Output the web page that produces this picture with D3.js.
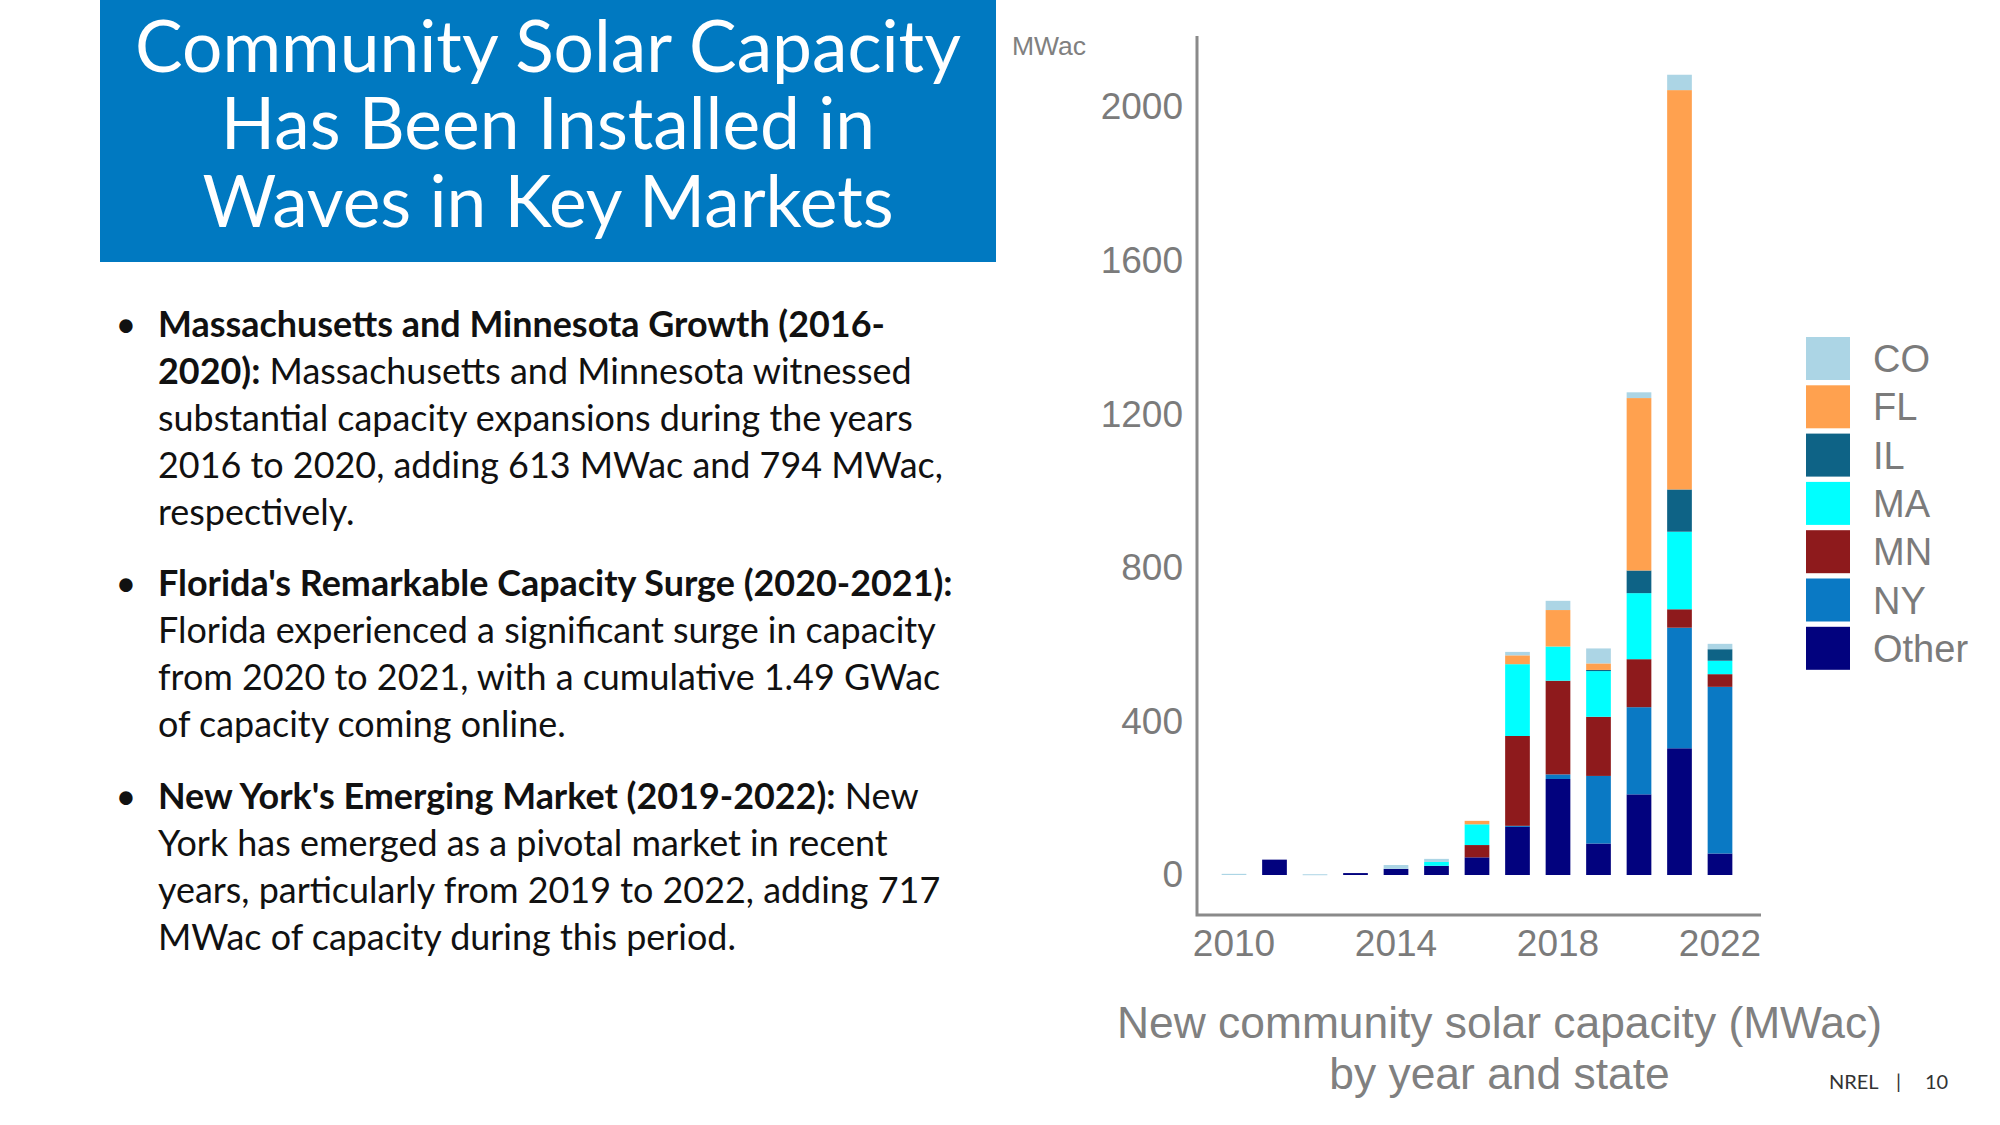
<!DOCTYPE html>
<html><head><meta charset="utf-8">
<script src="https://cdn.jsdelivr.net/npm/d3@7"></script>
<style>html,body{margin:0;padding:0;background:#fff;} svg{display:block}</style>
</head><body>
<svg id="c" width="2000" height="1125"></svg>
<script>
// ---------- DATA ----------
const years = [2010,2011,2012,2013,2014,2015,2016,2017,2018,2019,2020,2021,2022];
const CO    = [3,0,2,0,10,8,0,9,24,39,15,40,14];
const FL    = [0,0,0,0,0,0,9,23,95,17,449,1040,0];
const IL    = [0,0,0,0,0,0,0,0,0,3,59,110,30];
const MA    = [0,0,0,0,0,10,54,187,89,119,172,202,35];
const MN    = [0,0,0,0,0,0,32,234,244,154,125,48,33];
const NY    = [0,0,0,0,0,0,0,2,12,176,227,314,434];
const Other = [0,40,0,5,16,24,46,126,250,82,210,330,56];
const stackKeys  = ["Other","NY","MN","MA","IL","FL","CO"];
const legendKeys = ["CO","FL","IL","MA","MN","NY","Other"];
const yTicks = [0,400,800,1200,1600,2000];
const xTicks = [2010,2014,2018,2022];
const unitLabel = "MWac";
const titleLines = ["Community Solar Capacity","Has Been Installed in","Waves in Key Markets"];
const captionLines = ["New community solar capacity (MWac)","by year and state"];
const footer = ["NREL","|","10"];
const bullets = [
  [ {b:"Massachusetts and Minnesota Growth (2016-", r:""},
    {b:"2020):", r:" Massachusetts and Minnesota witnessed"},
    {b:"", r:"substantial capacity expansions during the years"},
    {b:"", r:"2016 to 2020, adding 613 MWac and 794 MWac,"},
    {b:"", r:"respectively."} ],
  [ {b:"Florida's Remarkable Capacity Surge (2020-2021):", r:""},
    {b:"", r:"Florida experienced a significant surge in capacity"},
    {b:"", r:"from 2020 to 2021, with a cumulative 1.49 GWac"},
    {b:"", r:"of capacity coming online."} ],
  [ {b:"New York's Emerging Market (2019-2022):", r:" New"},
    {b:"", r:"York has emerged as a pivotal market in recent"},
    {b:"", r:"years, particularly from 2019 to 2022, adding 717"},
    {b:"", r:"MWac of capacity during this period."} ]
];

// ---------- STYLE ----------
const colors = {CO:"#acd5e5", FL:"#ffa14f", IL:"#0e6386", MA:"#00ffff", MN:"#8e1a1c", NY:"#0a79c4", Other:"#02027e"};
const seriesByKey = {CO, FL, IL, MA, MN, NY, Other};
const bodyFont = "Lato, 'Open Sans', sans-serif";
const chartFont = "'Liberation Sans', Arial, sans-serif";
const gray = "#7b7b7b";

const svg = d3.select("#c");

function fitSize(sel, target){
  const w = sel.node().getComputedTextLength();
  const fs = parseFloat(sel.attr("font-size"));
  return fs * target / w;
}

// ---------- TITLE BOX ----------
svg.append("rect").attr("x",100).attr("y",0).attr("width",896).attr("height",262).attr("fill","#0079c1");
const probe = svg.append("text").attr("font-family",bodyFont).attr("font-size",100).text(titleLines[0]);
const titleFs = fitSize(probe, 826); probe.remove();
const titleBase = [72,149,227];
titleLines.forEach((t,i)=>{
  svg.append("text").attr("x",548).attr("y",titleBase[i]).attr("text-anchor","middle")
    .attr("font-family",bodyFont).attr("font-size",titleFs).attr("fill","#fff").text(t);
});

// ---------- BULLETS ----------
const probe2 = svg.append("text").attr("font-family",bodyFont).attr("font-size",100).text(bullets[0][2].r);
const bodyFs = fitSize(probe2, 755); probe2.remove();
const paraStart = [337,596,809];
const lineGap = 47;
bullets.forEach((para,pi)=>{
  svg.append("text").attr("x",126).attr("y",paraStart[pi]).attr("text-anchor","middle")
    .attr("font-family",bodyFont).attr("font-size",bodyFs).attr("fill","#111").text("•");
  para.forEach((ln,li)=>{
    const t = svg.append("text").attr("x",158).attr("y",paraStart[pi]+li*lineGap)
      .attr("font-family",bodyFont).attr("font-size",bodyFs).attr("fill","#111")
      .attr("xml:space","preserve").style("white-space","pre");
    if(ln.b) t.append("tspan").attr("font-weight","bold").text(ln.b);
    if(ln.r) t.append("tspan").text(ln.r);
  });
});

// ---------- CHART ----------
const rows = years.map((yr,i)=>{
  const o = {year:yr};
  stackKeys.forEach(k=>o[k]=seriesByKey[k][i]);
  return o;
});
const x = d3.scaleBand().domain(years).range([1213.75,1740.25]).paddingInner(0.39).paddingOuter(0.195);
const y = d3.scaleLinear().domain([0,2000]).range([875,107]);
const stacked = d3.stack().keys(stackKeys)(rows);

svg.append("g").selectAll("g").data(stacked).join("g").attr("fill",d=>colors[d.key])
  .selectAll("rect").data(d=>d.filter(v=>v[1]-v[0]>0)).join("rect")
  .attr("x",d=>x(d.data.year)).attr("width",x.bandwidth())
  .attr("y",d=>y(d[1])).attr("height",d=>Math.max(1,y(d[0])-y(d[1])));

// axes
const yAx = svg.append("g").attr("transform","translate(1197,0)")
  .call(d3.axisLeft(y).tickValues(yTicks).tickFormat(d3.format("d")).tickSize(0).tickPadding(14));
yAx.select(".domain").remove();
yAx.selectAll("text").attr("font-family",chartFont).attr("font-size",37).attr("fill",gray);

const xAx = svg.append("g").attr("transform","translate(0,915)")
  .call(d3.axisBottom(x).tickValues(xTicks).tickFormat(d3.format("d")).tickSize(0).tickPadding(15));
xAx.select(".domain").remove();
xAx.selectAll("text").attr("font-family",chartFont).attr("font-size",37).attr("fill",gray);

svg.append("path").attr("d","M1197,36V915H1761").attr("fill","none").attr("stroke","#8a8a8a").attr("stroke-width",3);

svg.append("text").attr("x",1012).attr("y",55).attr("font-family",chartFont).attr("font-size",26.5)
  .attr("fill","#808080").text(unitLabel);

// legend
const lg = svg.append("g");
legendKeys.forEach((k,i)=>{
  const top = 337 + i*48.3;
  lg.append("rect").attr("x",1806).attr("y",top).attr("width",44).attr("height",43).attr("fill",colors[k]);
  lg.append("text").attr("x",1873).attr("y",top+21.5).attr("dy","0.36em")
    .attr("font-family",chartFont).attr("font-size",38).attr("fill",gray).text(k);
});

// caption
const cap0 = svg.append("text").attr("x",1499.5).attr("y",1038).attr("text-anchor","middle")
  .attr("font-family",chartFont).attr("font-size",100).attr("fill","#808080").text(captionLines[0]);
const capFs = fitSize(cap0, 765);
cap0.attr("font-size",capFs);
svg.append("text").attr("x",1499.5).attr("y",1089).attr("text-anchor","middle")
  .attr("font-family",chartFont).attr("font-size",capFs).attr("fill","#808080").text(captionLines[1]);

// footer
const fx = [1829,1896,1925];
footer.forEach((t,i)=>{
  svg.append("text").attr("x",fx[i]).attr("y",1089).attr("font-family",bodyFont).attr("font-size",20)
    .attr("fill","#333").text(t);
});
</script>
</body></html>
